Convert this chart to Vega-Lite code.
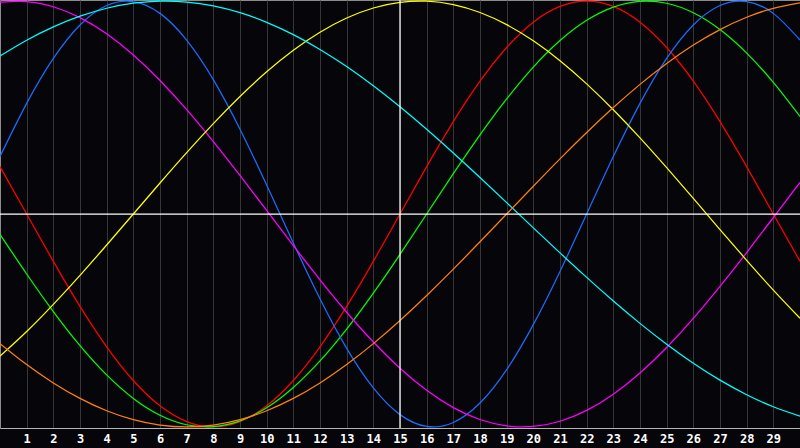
{
  "$schema": "https://vega.github.io/schema/vega-lite/v6.json",
  "width": 800,
  "height": 428,
  "autosize": {"type": "none"},
  "padding": {"left": 0, "top": 0, "right": 0, "bottom": 20},
  "background": "#060509",
  "config": {
    "view": {"stroke": "#8c8c8c", "strokeWidth": 1},
    "axisX": {
      "grid": true,
      "gridColor": "#363636",
      "gridWidth": 1,
      "ticks": false,
      "domainColor": "#b4b4b4",
      "labelColor": "#ffffff",
      "labelFont": "DejaVu Sans Mono",
      "labelFontWeight": "bold",
      "labelFontSize": 12,
      "labelPadding": 5,
      "labelFlush": false,
      "labelOverlap": false,
      "labelBound": false,
      "title": null
    }
  },
  "datasets": {
    "cycles": [
      {"d":0,"c":"R","v":0.2225},{"d":1,"c":"R","v":0},{"d":2,"c":"R","v":-0.2225},{"d":3,"c":"R","v":-0.4339},{"d":4,"c":"R","v":-0.6235},{"d":5,"c":"R","v":-0.7818},{"d":6,"c":"R","v":-0.901},{"d":7,"c":"R","v":-0.9749},{"d":8,"c":"R","v":-1},{"d":9,"c":"R","v":-0.9749},{"d":10,"c":"R","v":-0.901},{"d":11,"c":"R","v":-0.7818},{"d":12,"c":"R","v":-0.6235},{"d":13,"c":"R","v":-0.4339},{"d":14,"c":"R","v":-0.2225},{"d":15,"c":"R","v":0},{"d":16,"c":"R","v":0.2225},{"d":17,"c":"R","v":0.4339},{"d":18,"c":"R","v":0.6235},{"d":19,"c":"R","v":0.7818},{"d":20,"c":"R","v":0.901},{"d":21,"c":"R","v":0.9749},{"d":22,"c":"R","v":1},{"d":23,"c":"R","v":0.9749},{"d":24,"c":"R","v":0.901},{"d":25,"c":"R","v":0.7818},{"d":26,"c":"R","v":0.6235},{"d":27,"c":"R","v":0.4339},{"d":28,"c":"R","v":0.2225},{"d":29,"c":"R","v":0},{"d":30,"c":"R","v":-0.2225},
      {"d":0,"c":"G","v":-0.0951},{"d":1,"c":"G","v":-0.2817},{"d":2,"c":"G","v":-0.4582},{"d":3,"c":"G","v":-0.6182},{"d":4,"c":"G","v":-0.7557},{"d":5,"c":"G","v":-0.866},{"d":6,"c":"G","v":-0.945},{"d":7,"c":"G","v":-0.9898},{"d":8,"c":"G","v":-0.9989},{"d":9,"c":"G","v":-0.9718},{"d":10,"c":"G","v":-0.9096},{"d":11,"c":"G","v":-0.8146},{"d":12,"c":"G","v":-0.6901},{"d":13,"c":"G","v":-0.5406},{"d":14,"c":"G","v":-0.3717},{"d":15,"c":"G","v":-0.1893},{"d":16,"c":"G","v":0},{"d":17,"c":"G","v":0.1893},{"d":18,"c":"G","v":0.3717},{"d":19,"c":"G","v":0.5406},{"d":20,"c":"G","v":0.6901},{"d":21,"c":"G","v":0.8146},{"d":22,"c":"G","v":0.9096},{"d":23,"c":"G","v":0.9718},{"d":24,"c":"G","v":0.9989},{"d":25,"c":"G","v":0.9898},{"d":26,"c":"G","v":0.945},{"d":27,"c":"G","v":0.866},{"d":28,"c":"G","v":0.7557},{"d":29,"c":"G","v":0.6182},{"d":30,"c":"G","v":0.4582},
      {"d":0,"c":"B","v":0.2698},{"d":1,"c":"B","v":0.5196},{"d":2,"c":"B","v":0.7308},{"d":3,"c":"B","v":0.8879},{"d":4,"c":"B","v":0.9791},{"d":5,"c":"B","v":0.9977},{"d":6,"c":"B","v":0.9422},{"d":7,"c":"B","v":0.8169},{"d":8,"c":"B","v":0.6311},{"d":9,"c":"B","v":0.3984},{"d":10,"c":"B","v":0.1362},{"d":11,"c":"B","v":-0.1362},{"d":12,"c":"B","v":-0.3984},{"d":13,"c":"B","v":-0.6311},{"d":14,"c":"B","v":-0.8169},{"d":15,"c":"B","v":-0.9422},{"d":16,"c":"B","v":-0.9977},{"d":17,"c":"B","v":-0.9791},{"d":18,"c":"B","v":-0.8879},{"d":19,"c":"B","v":-0.7308},{"d":20,"c":"B","v":-0.5196},{"d":21,"c":"B","v":-0.2698},{"d":22,"c":"B","v":0},{"d":23,"c":"B","v":0.2698},{"d":24,"c":"B","v":0.5196},{"d":25,"c":"B","v":0.7308},{"d":26,"c":"B","v":0.8879},{"d":27,"c":"B","v":0.9791},{"d":28,"c":"B","v":0.9977},{"d":29,"c":"B","v":0.9422},{"d":30,"c":"B","v":0.8169},
      {"d":0,"c":"M","v":0.9951},{"d":1,"c":"M","v":0.9978},{"d":2,"c":"M","v":0.9733},{"d":3,"c":"M","v":0.9223},{"d":4,"c":"M","v":0.8461},{"d":5,"c":"M","v":0.7467},{"d":6,"c":"M","v":0.627},{"d":7,"c":"M","v":0.4904},{"d":8,"c":"M","v":0.3403},{"d":9,"c":"M","v":0.1809},{"d":10,"c":"M","v":0.0165},{"d":11,"c":"M","v":-0.1483},{"d":12,"c":"M","v":-0.309},{"d":13,"c":"M","v":-0.4613},{"d":14,"c":"M","v":-0.6011},{"d":15,"c":"M","v":-0.7242},{"d":16,"c":"M","v":-0.828},{"d":17,"c":"M","v":-0.9091},{"d":18,"c":"M","v":-0.9652},{"d":19,"c":"M","v":-0.9951},{"d":20,"c":"M","v":-0.9978},{"d":21,"c":"M","v":-0.9733},{"d":22,"c":"M","v":-0.9223},{"d":23,"c":"M","v":-0.8461},{"d":24,"c":"M","v":-0.7467},{"d":25,"c":"M","v":-0.627},{"d":26,"c":"M","v":-0.4904},{"d":27,"c":"M","v":-0.3403},{"d":28,"c":"M","v":-0.1809},{"d":29,"c":"M","v":-0.0165},{"d":30,"c":"M","v":0.1483},
      {"d":0,"c":"Y","v":-0.6676},{"d":1,"c":"Y","v":-0.5519},{"d":2,"c":"Y","v":-0.4245},{"d":3,"c":"Y","v":-0.2881},{"d":4,"c":"Y","v":-0.1456},{"d":5,"c":"Y","v":0},{"d":6,"c":"Y","v":0.1456},{"d":7,"c":"Y","v":0.2881},{"d":8,"c":"Y","v":0.4245},{"d":9,"c":"Y","v":0.5519},{"d":10,"c":"Y","v":0.6676},{"d":11,"c":"Y","v":0.7689},{"d":12,"c":"Y","v":0.8536},{"d":13,"c":"Y","v":0.9204},{"d":14,"c":"Y","v":0.9675},{"d":15,"c":"Y","v":0.994},{"d":16,"c":"Y","v":0.9993},{"d":17,"c":"Y","v":0.9834},{"d":18,"c":"Y","v":0.9464},{"d":19,"c":"Y","v":0.8893},{"d":20,"c":"Y","v":0.8133},{"d":21,"c":"Y","v":0.72},{"d":22,"c":"Y","v":0.6112},{"d":23,"c":"Y","v":0.4894},{"d":24,"c":"Y","v":0.3572},{"d":25,"c":"Y","v":0.2174},{"d":26,"c":"Y","v":0.073},{"d":27,"c":"Y","v":-0.073},{"d":28,"c":"Y","v":-0.2174},{"d":29,"c":"Y","v":-0.3572},{"d":30,"c":"Y","v":-0.4894},
      {"d":0,"c":"C","v":0.7417},{"d":1,"c":"C","v":0.8159},{"d":2,"c":"C","v":0.8786},{"d":3,"c":"C","v":0.9289},{"d":4,"c":"C","v":0.9662},{"d":5,"c":"C","v":0.9899},{"d":6,"c":"C","v":0.9997},{"d":7,"c":"C","v":0.9955},{"d":8,"c":"C","v":0.9773},{"d":9,"c":"C","v":0.9454},{"d":10,"c":"C","v":0.9002},{"d":11,"c":"C","v":0.8424},{"d":12,"c":"C","v":0.7727},{"d":13,"c":"C","v":0.6922},{"d":14,"c":"C","v":0.602},{"d":15,"c":"C","v":0.5034},{"d":16,"c":"C","v":0.3977},{"d":17,"c":"C","v":0.2864},{"d":18,"c":"C","v":0.1711},{"d":19,"c":"C","v":0.0534},{"d":20,"c":"C","v":-0.0652},{"d":21,"c":"C","v":-0.1827},{"d":22,"c":"C","v":-0.2977},{"d":23,"c":"C","v":-0.4085},{"d":24,"c":"C","v":-0.5136},{"d":25,"c":"C","v":-0.6116},{"d":26,"c":"C","v":-0.7009},{"d":27,"c":"C","v":-0.7803},{"d":28,"c":"C","v":-0.8488},{"d":29,"c":"C","v":-0.9053},{"d":30,"c":"C","v":-0.9492},
      {"d":0,"c":"O","v":-0.6088},{"d":1,"c":"O","v":-0.7071},{"d":2,"c":"O","v":-0.7934},{"d":3,"c":"O","v":-0.866},{"d":4,"c":"O","v":-0.9239},{"d":5,"c":"O","v":-0.9659},{"d":6,"c":"O","v":-0.9914},{"d":7,"c":"O","v":-1},{"d":8,"c":"O","v":-0.9914},{"d":9,"c":"O","v":-0.9659},{"d":10,"c":"O","v":-0.9239},{"d":11,"c":"O","v":-0.866},{"d":12,"c":"O","v":-0.7934},{"d":13,"c":"O","v":-0.7071},{"d":14,"c":"O","v":-0.6088},{"d":15,"c":"O","v":-0.5},{"d":16,"c":"O","v":-0.3827},{"d":17,"c":"O","v":-0.2588},{"d":18,"c":"O","v":-0.1305},{"d":19,"c":"O","v":0},{"d":20,"c":"O","v":0.1305},{"d":21,"c":"O","v":0.2588},{"d":22,"c":"O","v":0.3827},{"d":23,"c":"O","v":0.5},{"d":24,"c":"O","v":0.6088},{"d":25,"c":"O","v":0.7071},{"d":26,"c":"O","v":0.7934},{"d":27,"c":"O","v":0.866},{"d":28,"c":"O","v":0.9239},{"d":29,"c":"O","v":0.9659},{"d":30,"c":"O","v":0.9914}
    ]
  },
  "encoding": {
    "x": {
      "field": "d",
      "type": "quantitative",
      "scale": {"domain": [0, 30], "nice": false, "zero": false},
      "axis": {
        "values": [1,2,3,4,5,6,7,8,9,10,11,12,13,14,15,16,17,18,19,20,21,22,23,24,25,26,27,28,29],
        "labelOverlap": false,
        "labelSeparation": 0,
        "labelBound": false
      }
    }
  },
  "layer": [
    {
      "data": {"name": "cycles"},
      "mark": {"type": "line", "interpolate": "natural", "strokeWidth": 1.25, "clip": true},
      "encoding": {
        "y": {
          "field": "v",
          "type": "quantitative",
          "scale": {"domain": [-1.005, 1.005], "nice": false, "zero": false},
          "axis": null
        },
        "color": {
          "field": "c",
          "type": "nominal",
          "scale": {
            "domain": ["O", "Y", "C", "M", "G", "R", "B"],
            "range": ["#ff8010", "#ffff00", "#00ffff", "#ff00ff", "#00ff00", "#ff0000", "#1a6cff"]
          },
          "legend": null
        }
      }
    },
    {
      "data": {"values": [{"d": 15}]},
      "mark": {"type": "rule", "color": "#ffffff", "strokeWidth": 1.25},
      "encoding": {}
    },
    {
      "data": {"values": [{"d": 0, "d2": 30, "v": 0}]},
      "mark": {"type": "rule", "color": "#ffffff", "strokeWidth": 1.25},
      "encoding": {
        "x2": {"field": "d2"},
        "y": {"field": "v", "type": "quantitative"}
      }
    }
  ]
}
